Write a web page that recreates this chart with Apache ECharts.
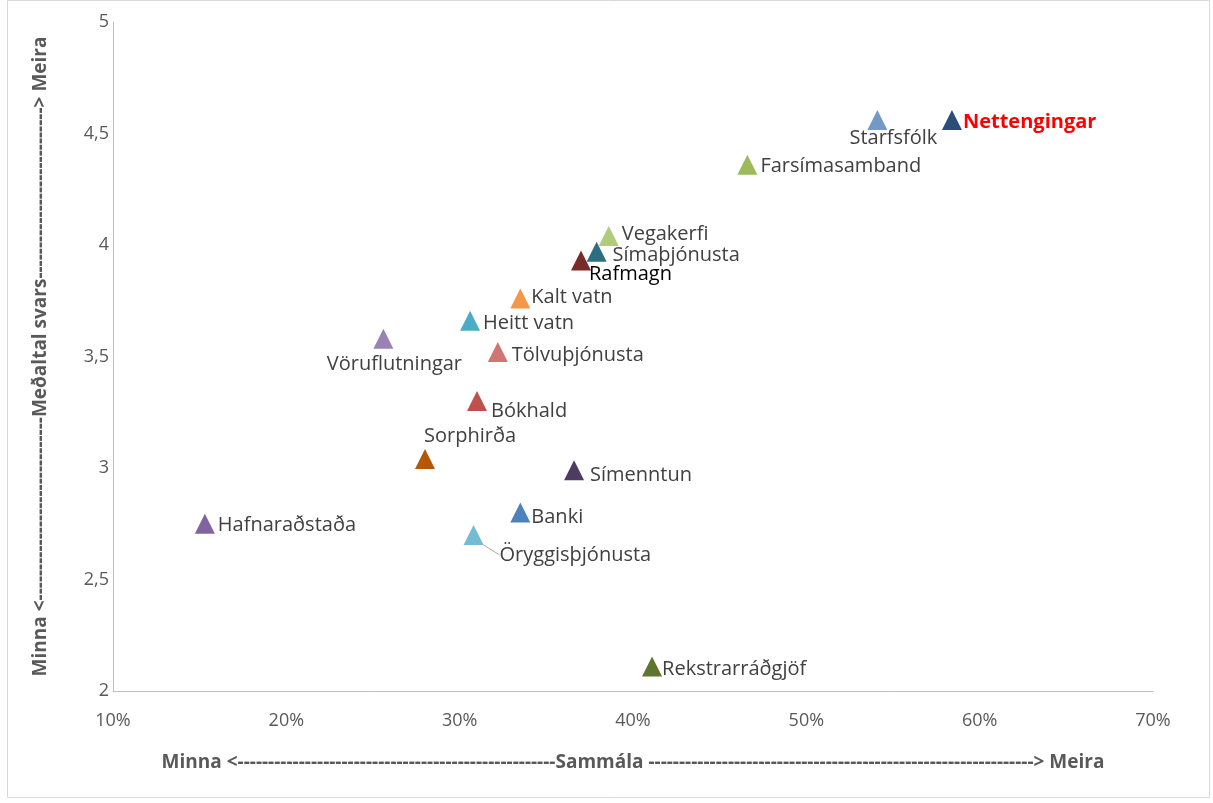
<!DOCTYPE html>
<html>
<head>
<meta charset="utf-8">
<script src="https://cdn.jsdelivr.net/npm/echarts@6/dist/echarts.min.js"></script>
<style>
html,body{margin:0;padding:0;background:#fff;}
#chart{width:1213px;height:803px;}
</style>
</head>
<body>
<div id="chart"></div>
<script>
// ---- data ----
const names = ['Nettengingar','Starfsfólk','Farsímasamband','Vegakerfi','Símaþjónusta','Rafmagn','Kalt vatn','Heitt vatn','Vöruflutningar','Tölvuþjónusta','Bókhald','Sorphirða','Símenntun','Hafnaraðstaða','Banki','Öryggisþjónusta','Rekstrarráðgjöf'];
const agreePct = [58.4, 54.1, 46.6, 38.6, 37.9, 37.0, 33.5, 30.6, 25.6, 32.2, 31.0, 28.0, 36.6, 15.3, 33.5, 30.8, 41.1];
const meanAnswer = [4.56, 4.56, 4.36, 4.04, 3.97, 3.93, 3.76, 3.66, 3.58, 3.52, 3.30, 3.04, 2.99, 2.75, 2.80, 2.70, 2.11];
const xTicks = [10, 20, 30, 40, 50, 60, 70];
const yTicks = [2, 2.5, 3, 3.5, 4, 4.5, 5];
const xTitle = 'Minna <' + '-'.repeat(52) + 'Sammála ' + '-'.repeat(63) + '> Meira';
const yTitle = 'Minna <' + '-'.repeat(30) + 'Meðaltal svars' + '-'.repeat(28) + '> Meira';

// ---- styles ----
const markerColors = ['#2C4D75','#7399C6','#9BBB59','#B0CB7D','#2B6E80','#772C2A','#F79646','#4BACC6','#9983B5','#D07573','#C0504D','#B65708','#4E3B62','#8064A2','#4F81BD','#73BCD1','#5F7530'];
const labelOffsets = {
  'Nettengingar':[11,2,'left'], 'Starfsfólk':[16,18,'center'], 'Farsímasamband':[13,2,'left'], 'Vegakerfi':[13,-2,'left'],
  'Símaþjónusta':[16,4,'left'], 'Rafmagn':[8,14,'left'], 'Kalt vatn':[11,-1,'left'], 'Heitt vatn':[13,2,'left'],
  'Vöruflutningar':[11,26,'center'], 'Tölvuþjónusta':[14,3,'left'], 'Bókhald':[14,10,'left'], 'Sorphirða':[-1,-23,'left'],
  'Símenntun':[16,5,'left'], 'Hafnaraðstaða':[13,2,'left'], 'Banki':[11,5,'left'], 'Öryggisþjónusta':[26,20,'left'], 'Rekstrarráðgjöf':[10,3,'left']
};
const SYM = 20;
const labelFont = '"Open Sans", "Noto Sans", sans-serif';

const seriesData = names.map((n, i) => {
  const off = labelOffsets[n];
  const lbl = {
    show: true,
    formatter: '{b}',
    position: [SYM/2 + off[0], SYM/2 + off[1]],
    align: off[2],
    verticalAlign: 'middle',
    color: '#404040',
    fontSize: 20,
    fontFamily: labelFont
  };
  if (n === 'Nettengingar') { lbl.color = '#FF0000'; lbl.fontWeight = 'bold'; }
  if (n === 'Rafmagn') { lbl.color = '#000000'; }
  const item = {
    name: n,
    value: [agreePct[i], meanAnswer[i]],
    itemStyle: { color: markerColors[i], opacity: 1 },
    label: lbl
  };
  if (n === 'Öryggisþjónusta') {
    item.labelLine = { show: true, lineStyle: { color: '#A6A6A6', width: 1 } };
  }
  return item;
});

const chart = echarts.init(document.getElementById('chart'), null, { renderer: 'canvas' });
chart.setOption({
  backgroundColor: '#fff',
  animation: false,
  graphic: [{
    type: 'rect', silent: true,
    shape: { x: 7.5, y: 0.5, width: 1202, height: 797 },
    style: { fill: 'none', stroke: '#D9D9D9', lineWidth: 1 }
  }],
  grid: { left: 113, right: 60, top: 22, bottom: 112, containLabel: false },
  xAxis: {
    type: 'value', min: xTicks[0], max: xTicks[xTicks.length - 1], interval: 10,
    name: xTitle, nameLocation: 'middle', nameGap: 62,
    nameTextStyle: { color: '#595959', fontSize: 19, fontWeight: 'bold', fontFamily: labelFont },
    axisLine: { show: true, lineStyle: { color: '#BFBFBF', width: 1 } },
    axisTick: { show: false },
    splitLine: { show: false },
    axisLabel: { color: '#595959', fontSize: 18, margin: 21, fontFamily: '"Liberation Sans Narrow", "Open Sans", sans-serif', formatter: '{value}%' }
  },
  yAxis: {
    type: 'value', min: yTicks[0], max: yTicks[yTicks.length - 1], interval: 0.5,
    name: yTitle, nameLocation: 'middle', nameGap: 63,
    nameTextStyle: { color: '#595959', fontSize: 19, fontWeight: 'bold', fontFamily: labelFont },
    axisLine: { show: true, lineStyle: { color: '#BFBFBF', width: 1 } },
    axisTick: { show: false },
    splitLine: { show: false },
    axisLabel: { color: '#595959', fontSize: 18, margin: 4, fontFamily: labelFont,
      formatter: v => String(v).replace('.', ',') }
  },
  series: [{
    type: 'scatter',
    symbol: 'triangle',
    symbolSize: SYM,
    itemStyle: { opacity: 1 },
    data: seriesData
  }]
});
</script>
</body>
</html>
